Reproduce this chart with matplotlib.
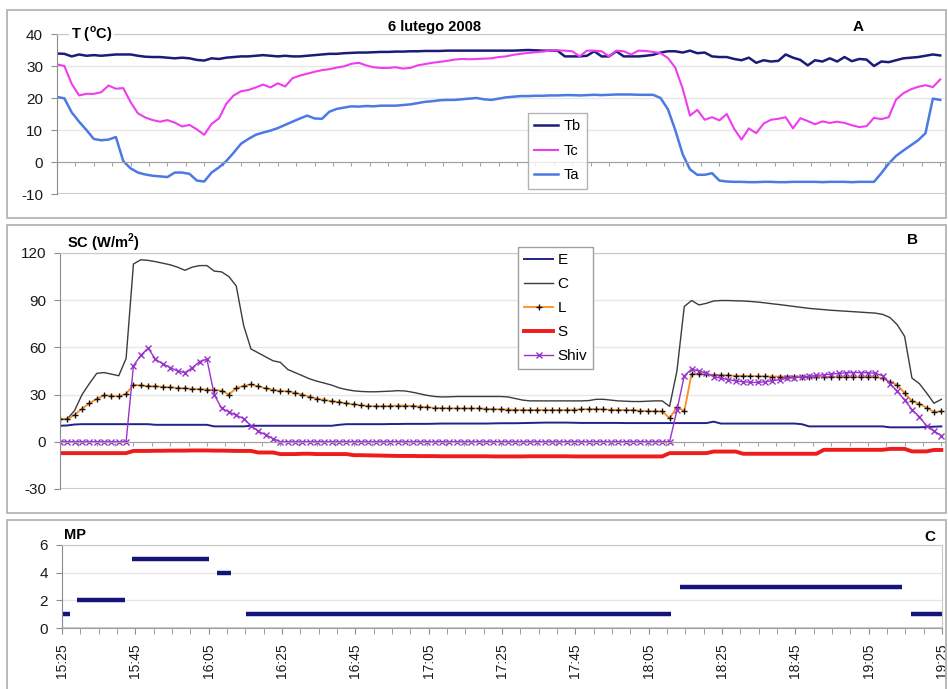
#Thermal balance record, 6 lutego 2008: temperatures, heat flux and MP level

import numpy as np
import matplotlib.pyplot as plt
from matplotlib.patches import Rectangle
from matplotlib.ticker import MultipleLocator, FixedLocator

plt.rcParams['font.family'] = ['Liberation Sans', 'DejaVu Sans']
plt.rcParams['mathtext.fontset'] = 'custom'
plt.rcParams['mathtext.rm'] = 'Liberation Sans'
plt.rcParams['mathtext.bf'] = 'Liberation Sans:bold'
plt.rcParams['axes.unicode_minus'] = False

#minutes after 15:25, one sample every 2 min
t = np.arange(0, 241, 2)

#panel A, temperatures (oC)
Tb = [33.9, 33.8, 33.0, 33.6, 33.2, 33.4, 33.2, 33.4, 33.6, 33.6, 33.6, 33.2, 32.9, 32.8, 32.8, 32.6,
      32.4, 32.6, 32.4, 31.9, 31.7, 32.4, 32.2, 32.6, 32.8, 33.0, 33.0, 33.2, 33.4, 33.2, 33.0, 33.2,
      33.0, 33.0, 33.2, 33.4, 33.6, 33.8, 33.8, 34.0, 34.1,
      34.2, 34.2, 34.3, 34.4, 34.4, 34.5, 34.5, 34.6, 34.6, 34.7, 34.7, 34.7, 34.8, 34.8, 34.8, 34.8, 34.8,
      34.8, 34.8, 34.8, 34.8, 34.8, 34.9, 35.0, 34.9, 34.8, 34.8, 34.8,
      33.0, 33.0, 33.0, 33.2, 34.6, 33.0, 33.0, 34.6, 33.0, 33.0, 33.0, 33.2, 33.5, 34.2, 34.6, 34.6,
      34.2, 34.8, 34.0, 34.2, 33.0, 32.8, 32.8, 32.2, 31.8, 32.6, 31.0, 31.8, 31.4, 31.6, 33.6, 32.6,
      31.9, 30.2, 31.8, 31.4, 32.4, 31.4, 32.8, 31.5, 32.2, 32.0, 30.0, 31.4, 31.2, 31.8, 32.4, 32.6,
      32.8, 33.2, 33.6, 33.3]
Tc = [30.5, 30.0, 24.4, 20.8, 21.3, 21.3, 21.8, 23.9, 22.9, 23.1, 18.7, 15.2, 13.9, 13.1, 12.6, 13.1,
      12.3, 11.1, 11.6, 10.2, 8.5, 11.9, 13.6, 18.2, 20.8, 22.1, 22.5, 23.3, 24.2, 23.3, 24.6, 23.6,
      26.2, 27.0, 27.6, 28.2, 28.7, 29.0, 29.5, 29.9, 30.7,
      31.0, 30.2, 29.6, 29.4, 29.4, 29.6, 29.2, 29.4, 30.2, 30.6, 31.0, 31.3, 31.6, 32.0, 32.2, 32.1, 32.2,
      32.3, 32.4, 32.8, 33.0, 33.5, 33.8, 34.1, 34.3, 34.5, 34.8, 34.9,
      34.8, 34.6, 33.0, 34.8, 34.8, 34.6, 33.0, 34.8, 34.6, 33.6, 34.8, 34.7, 34.4, 34.0, 32.5, 29.5,
      23.0, 14.5, 16.3, 13.2, 14.0, 13.0, 15.0, 10.4, 7.0, 10.5, 9.0, 12.0, 13.2, 13.5, 14.0, 10.5,
      13.7, 12.8, 11.8, 12.7, 12.2, 12.6, 12.2, 11.5, 10.9, 11.2, 13.8, 13.4, 14.0, 19.5, 21.5, 22.7,
      23.5, 24.0, 23.4, 25.8]
Ta = [20.3, 19.9, 15.5, 12.6, 10.0, 7.2, 6.8, 7.0, 7.8, 0.3, -2.0, -3.3, -3.9, -4.3, -4.5, -4.7,
      -3.3, -3.3, -3.7, -5.8, -6.1, -3.3, -1.7, 0.3, 2.9, 5.7, 7.2, 8.5, 9.2, 9.8, 10.6, 11.6,
      12.6, 13.6, 14.5, 13.6, 13.5, 15.7, 16.6, 17.0, 17.4,
      17.3, 17.5, 17.4, 17.6, 17.6, 17.6, 17.8, 18.0, 18.4, 18.8, 19.0, 19.3, 19.4, 19.4, 19.6, 19.8, 20.0,
      19.6, 19.4, 19.8, 20.2, 20.4, 20.6, 20.6, 20.7, 20.7, 20.8, 20.8,
      20.9, 20.9, 20.8, 20.9, 21.0, 20.9, 21.0, 21.1, 21.1, 21.1, 21.0, 21.0, 21.0, 20.0, 16.5, 10.0,
      2.5, -2.3, -4.0, -4.0, -3.5, -5.8, -6.1, -6.2, -6.2, -6.3, -6.3, -6.2, -6.2, -6.3, -6.3, -6.2,
      -6.2, -6.2, -6.2, -6.3, -6.2, -6.2, -6.2, -6.3, -6.2, -6.2, -6.2, -3.5, -0.5, 1.9, 3.6, 5.2,
      6.8, 9.0, 19.8, 19.4]

#panel B, heat flux (W/m2)
E = [10.2, 10.4, 11.0, 11.2, 11.2, 11.2, 11.2, 11.2, 11.2, 11.2, 11.2, 11.2, 11.2, 10.8, 10.8, 10.8,
     10.8, 10.8, 10.8, 10.8, 10.8, 9.8, 9.8, 9.8, 9.8, 9.8, 10.2, 10.2, 10.2, 10.2, 10.2, 10.2,
     10.2, 10.2, 10.2, 10.2, 10.2, 10.2, 10.8, 11.2, 11.2, 11.2, 11.2, 11.2, 11.2, 11.3, 11.3, 11.4,
     11.4, 11.4, 11.4, 11.5, 11.6, 11.6, 11.6, 11.6, 11.6, 11.6, 11.6, 11.7, 11.8, 11.8, 11.8, 11.9,
     12.0, 12.1, 12.2, 12.2, 12.2, 12.2, 12.1, 12.0, 12.0, 12.0, 12.0, 12.0, 12.0, 11.9, 11.9, 11.9,
     11.9, 11.9, 11.9, 11.9, 11.9, 11.9, 11.9, 11.9, 11.9, 12.8, 11.6, 11.6, 11.6, 11.6, 11.6, 11.6,
     11.6, 11.6, 11.6, 11.6, 11.6, 11.2, 9.8, 9.8, 9.8, 9.8, 9.8, 9.8, 9.8, 9.8, 9.8, 9.8,
     9.8, 9.2, 9.2, 9.2, 9.2, 9.2, 9.4, 9.6, 9.8]
C = [14.5, 14.5, 20, 30, 37, 43.5, 44, 43, 42, 53, 113, 115.7, 115.3, 114.5, 113.5, 112.5,
     111, 109, 111, 112, 112, 108.5, 108, 105, 99, 74, 59, 56.5, 54, 51.5, 50.5, 46,
     44, 42, 40, 38.5, 37.3, 36, 34.3, 33.2, 32.4,
     32, 31.8, 31.8, 32, 32.2, 32.5, 32.3, 31.5, 30.5, 29.5, 28.8, 28.5, 28.6, 28.8, 28.8, 28.8, 28.8,
     28.8, 28.8, 28.8, 28.5, 27.5, 26.5, 26, 26, 26, 26, 26,
     26, 26, 26, 26.2, 27, 27, 26.5, 26, 25.8, 25.6, 25.6, 25.8, 26, 26, 22.5, 45,
     86, 89.8, 87, 88, 89.5, 89.8, 89.8, 89.6, 89.5, 89.2, 88.8, 88.3, 87.7, 87.2, 86.6, 86,
     85.4, 84.8, 84.4, 84, 83.6, 83.3, 83, 82.7, 82.4, 82.1, 81.8, 81, 79, 74.4, 67, 40.5,
     37, 31, 24.5, 27]
L = [14.4, 14.4, 17.2, 21, 24.5, 27.2, 29.5, 29.4, 28.8, 30.5, 36.2, 35.8, 35.4, 35.2, 35, 34.6,
     34.3, 34, 33.7, 33.5, 33.2, 33, 32.5, 30, 34.2, 35.5, 36.5, 35.2, 34, 33, 32.4, 32,
     31.2, 30, 28.6, 27.4, 26.6, 25.8, 25.2, 24.4, 23.8,
     23.2, 22.8, 22.6, 22.6, 22.8, 23, 23, 22.8, 22.4, 22, 21.6, 21.4, 21.3, 21.2, 21.2, 21.2, 21.2,
     21, 20.8, 20.6, 20.5, 20.3, 20.3, 20.2, 20.3, 20.3, 20.2, 20.2,
     20.3, 20.4, 20.6, 20.8, 20.8, 20.6, 20.4, 20.3, 20.2, 20.2, 19.8, 19.6, 19.4, 19.3, 15, 22,
     19.5, 43.2, 43, 42.8, 42.6, 42.4, 42.2, 42, 42, 41.8, 41.7, 41.6, 41.5, 41.5, 41.5, 41.5,
     41.5, 41.4, 41.4, 41.3, 41.2, 41.1, 41.1, 41.1, 41.1, 41.1, 41.1, 40.5, 38, 36.2, 31, 25.8,
     24.2, 21.6, 19, 19.3]
S = [-7.2, -7.2, -7.2, -7.2, -7.2, -7.2, -7.2, -7.2, -7.2, -7.2, -5.8, -5.8, -5.8, -5.7, -5.7, -5.6,
     -5.6, -5.6, -5.5, -5.5, -5.5, -5.6, -5.6, -5.7, -5.8, -5.8, -5.8, -6.8, -6.8, -6.8, -7.8, -7.8,
     -7.8, -7.6, -7.6, -7.8, -7.8, -7.8, -7.8, -7.8, -8.5, -8.5, -8.6, -8.7, -8.8, -8.9, -9.0, -9.0,
     -9.0, -9.1, -9.1, -9.1, -9.2, -9.2, -9.2, -9.2, -9.2, -9.2, -9.2, -9.3, -9.3, -9.3, -9.3, -9.3,
     -9.2, -9.2, -9.2, -9.2, -9.2, -9.2, -9.3, -9.3, -9.3, -9.3, -9.3, -9.3, -9.3, -9.3, -9.3, -9.3,
     -9.3, -9.3, -9.3, -7.2, -7.2, -7.2, -7.2, -7.2, -7.2, -6.2, -6.2, -6.2, -6.2, -7.6, -7.6, -7.6,
     -7.6, -7.6, -7.6, -7.6, -7.6, -7.6, -7.6, -7.6, -5.1, -5.1, -5.1, -5.1, -5.1, -5.1, -5.1, -5.1,
     -5.1, -4.5, -4.5, -4.5, -6.1, -6.1, -6.1, -5.2, -5.2]
Shiv = [0, 0, 0, 0, 0, 0, 0, 0, 0, 0, 48.3, 55, 59.5, 52.5, 49.5, 47.2,
        45, 44, 47, 51, 52.5, 30, 21.3, 19, 16.8, 14.8, 10.2, 6.7, 4.5, 2.0, 0, 0,
        0, 0, 0, 0, 0, 0, 0, 0, 0, 0, 0, 0, 0, 0, 0, 0,
        0, 0, 0, 0, 0, 0, 0, 0, 0, 0, 0, 0, 0, 0, 0, 0,
        0, 0, 0, 0, 0, 0, 0, 0, 0, 0, 0, 0, 0, 0, 0, 0,
        0, 0, 0, 0, 20, 42, 46.2, 45, 43.6, 41.5, 40.4, 39.5, 38.7, 38.2, 37.8, 37.7,
        38.2, 38.8, 39.5, 40.3, 40.8, 41.2, 41.6, 42.2, 42.6, 43, 43.5, 43.8, 44, 44, 43.8, 43.6,
        42, 37, 32, 26.5, 20.5, 16, 10, 6.8, 4]

#panel C, MP level held between two times (minutes)
mp_start = [0.1, 4.0, 19.0, 42.3, 50.3, 168.5, 231.5]
mp_end = [2.1, 17.1, 40.1, 46.2, 166.0, 229.2, 240.0]
mp_value = [1, 2, 5, 4, 1, 3, 1]

time_labels = ['15:25', '15:45', '16:05', '16:25', '16:45', '17:05', '17:25',
               '17:45', '18:05', '18:25', '18:45', '19:05', '19:25']

W, H = 948, 689
fig = plt.figure(figsize=(W/100, H/100), dpi=100)

def panel(l, top, r, b):
    return fig.add_axes([l/W, 1 - b/H, (r - l)/W, (b - top)/H])

def frame(l, top, r, b):
    fig.add_artist(Rectangle((l/W, 1 - b/H), (r - l)/W, (b - top)/H, transform=fig.transFigure,
                             fill=False, ec='#b4b4b4', lw=1.3, clip_on=False))

def style(ax, yticks, xmax):
    ax.set_xlim(0, xmax)
    ax.set_ylim(yticks[0], yticks[-1])
    ax.set_yticks(yticks)
    ax.grid(axis='y', color='#e6e6e6', lw=1)
    ax.set_axisbelow(True)
    ax.axhline(yticks[0], color='#c8c8c8', lw=1.5, zorder=0)
    ax.spines['top'].set_color('#c8c8c8')
    ax.spines['right'].set_color('#c8c8c8')
    ax.spines['left'].set_color('#8c8c8c')
    ax.spines['bottom'].set_position(('data', 0))
    ax.spines['bottom'].set_color('#a0a0a0')
    ax.tick_params(axis='y', length=4, color='#8c8c8c', labelsize=11, pad=6, labelcolor='#1a1a1a')
    ax.xaxis.set_major_locator(MultipleLocator(5))
    ax.tick_params(axis='x', length=3, color='#a0a0a0', labelbottom=False)

frame(7, 10, 946, 218)
frame(7, 225, 946, 513)
frame(7, 520, 946, 720)

#A
ax1 = panel(57, 34, 945, 194)
style(ax1, [-10, 0, 10, 20, 30, 40], 241.3)
ax1.plot(t, Tb, color='#1c1c78', lw=1.8, label='Tb')
ax1.plot(t, Tc, color='#ee3cee', lw=1.5, label='Tc')
ax1.plot(t, Ta, color='#4a7ae2', lw=1.8, label='Ta')
leg1 = ax1.legend(loc='lower left', bbox_to_anchor=(0.530, 0.031), fancybox=False, edgecolor='#a0a0a0',
                  fontsize=10.5, handlelength=1.6, labelspacing=0.72, handletextpad=0.4,
                  borderpad=0.45, borderaxespad=0)
leg1.get_frame().set_linewidth(1.0)
fig.text(71/W, 1 - 34/H, r'T ($^{\mathbf{o}}$C)', fontsize=10.5, fontweight='bold', va='center',
         bbox=dict(fc='white', ec='none', pad=1.5))
fig.text(435/W, 1 - 27/H, '6 lutego 2008', fontsize=10.5, fontweight='bold', ha='center', va='center')
fig.text(858/W, 1 - 27/H, 'A', fontsize=11, fontweight='bold', ha='center', va='center')

#B
ax2 = panel(60, 253, 945, 489)
style(ax2, [-30, 0, 30, 60, 90, 120], 241)
ax2.plot(t, E, color='#222288', lw=1.4, label='E')
ax2.plot(t, C, color='#3c3c3c', lw=1.0, label='C')
ax2.plot(t, L, color='#ff8c1a', lw=1.3, marker='+', ms=5, mec='#111111', mew=1, label='L')
ax2.plot(t, S, color='#ee1c1c', lw=2.8, label='S')
ax2.plot(t, Shiv, color='#9933cc', lw=1.0, marker='x', ms=4.5, mew=1, label='Shiv')
leg2 = ax2.legend(loc='lower left', bbox_to_anchor=(0.5175, 0.508), fancybox=False, edgecolor='#a0a0a0',
                  fontsize=11, handlelength=1.9, labelspacing=0.65, handletextpad=0.3,
                  borderpad=0.4, borderaxespad=0, framealpha=1)
leg2.get_frame().set_linewidth(1.0)
fig.text(67/W, 1 - 243/H, r'SC (W/m$^{\mathbf{2}}$)', fontsize=10.5, fontweight='bold', va='center')
fig.text(913/W, 1 - 240/H, 'B', fontsize=11, fontweight='bold', ha='center', va='center')

#C
ax3 = panel(62, 545, 942, 628)
style(ax3, [0, 2, 4, 6], 240)
ax3.hlines(mp_value, mp_start, mp_end, color='#14147a', lw=3.2)
ax3.xaxis.set_major_locator(FixedLocator(np.arange(0, 241, 20)))
ax3.xaxis.set_minor_locator(MultipleLocator(5))
ax3.set_xticklabels(time_labels, rotation=90)
ax3.tick_params(axis='x', which='both', length=4, color='#8c8c8c', labelbottom=True,
                labelsize=10, pad=7, labelcolor='#1a1a1a')
fig.text(64/W, 1 - 535/H, 'MP', fontsize=10.5, fontweight='bold', va='center')
fig.text(930/W, 1 - 537/H, 'C', fontsize=11, fontweight='bold', ha='center', va='center')

plt.savefig('out.png', dpi=100)
